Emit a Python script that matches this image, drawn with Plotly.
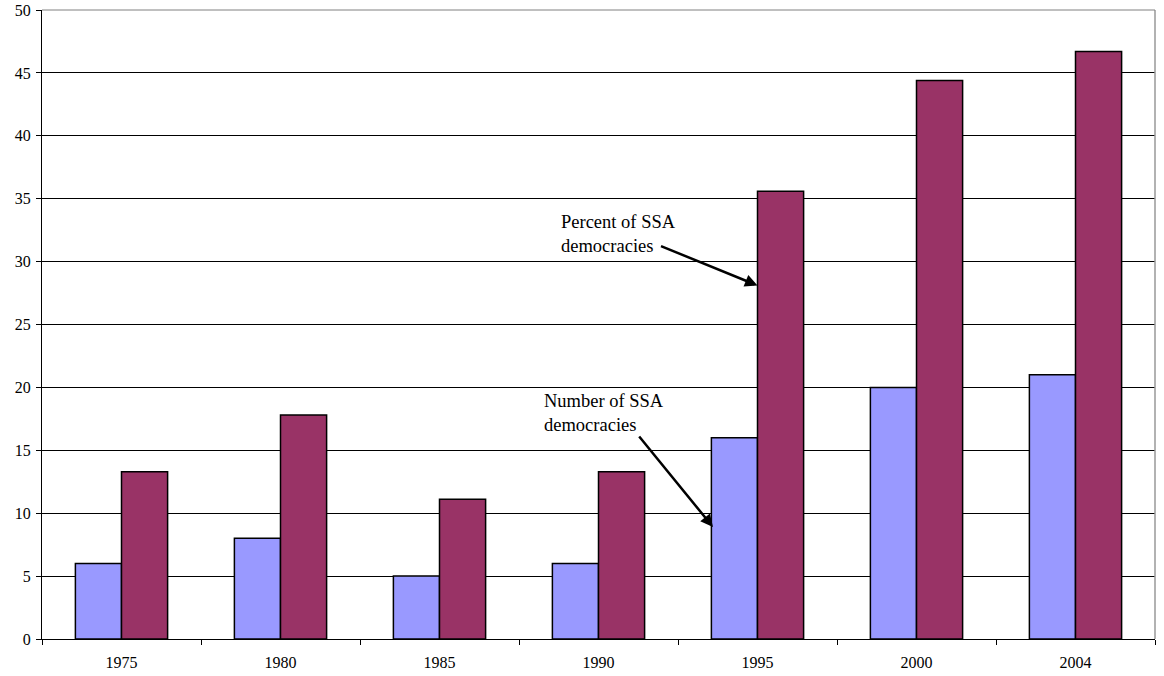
import plotly.graph_objects as go

years = ["1975", "1980", "1985", "1990", "1995", "2000", "2004"]
number_ssa = [6, 8, 5, 6, 16, 20, 21]
percent_ssa = [13.3, 17.8, 11.1, 13.3, 35.6, 44.4, 46.7]
y_ticks = [0, 5, 10, 15, 20, 25, 30, 35, 40, 45, 50]

font_family = "Liberation Serif"

fig = go.Figure()
fig.add_trace(go.Bar(x=years, y=number_ssa, name="Number of SSA democracies",
                     marker=dict(color="#9999FF", line=dict(color="#000000", width=1.5))))
fig.add_trace(go.Bar(x=years, y=percent_ssa, name="Percent of SSA democracies",
                     marker=dict(color="#993366", line=dict(color="#000000", width=1.5))))

fig.update_layout(
    width=1164, height=676,
    margin=dict(l=42, r=9, t=10, b=37),
    paper_bgcolor="white", plot_bgcolor="white",
    barmode="group", bargap=0.42, bargroupgap=0,
    showlegend=False,
    font=dict(family=font_family, color="#000000", size=16),
)
fig.update_xaxes(
    type="category", showgrid=False, showline=True, linecolor="#000000", linewidth=1,
    ticks="outside", tickson="boundaries", ticklen=5, tickcolor="#000000",
    tickfont=dict(size=16, family=font_family), automargin=False,
    ticklabelstandoff=9,
)
fig.update_yaxes(
    range=[0, 50], tickvals=y_ticks, showgrid=True, gridcolor="#000000", gridwidth=1,
    showline=True, linecolor="#000000", linewidth=1,
    ticks="outside", ticklen=5, tickcolor="#000000", zeroline=False,
    tickfont=dict(size=16, family=font_family), automargin=False,
    ticklabelstandoff=2,
)
# right and top border of the plotting area
fig.add_shape(type="line", xref="paper", yref="paper", x0=1, x1=1, y0=0, y1=1,
              line=dict(color="#999999", width=1.5))
fig.add_shape(type="line", xref="paper", yref="paper", x0=0, x1=1, y0=1, y1=1,
              line=dict(color="#808080", width=1))

# callout labels and arrows
fig.add_annotation(x=2.75, y=32.2, xref="x", yref="y", xanchor="left", yanchor="middle",
                   text="Percent of SSA<br>democracies", showarrow=False, align="left",
                   font=dict(size=18.5, family=font_family))
fig.add_annotation(x=4, y=28.1, xref="x", yref="y", ax=-98, ay=-40, text="",
                   showarrow=True, arrowhead=2, arrowsize=1, arrowwidth=2.5, arrowcolor="#000000")
fig.add_annotation(x=2.645, y=17.97, xref="x", yref="y", xanchor="left", yanchor="middle",
                   text="Number of SSA<br>democracies", showarrow=False, align="left",
                   font=dict(size=18.5, family=font_family))
fig.add_annotation(x=3.72, y=8.9, xref="x", yref="y", ax=-75, ay=-92, text="",
                   showarrow=True, arrowhead=2, arrowsize=1, arrowwidth=2.5, arrowcolor="#000000")

fig.write_html("out.html")
